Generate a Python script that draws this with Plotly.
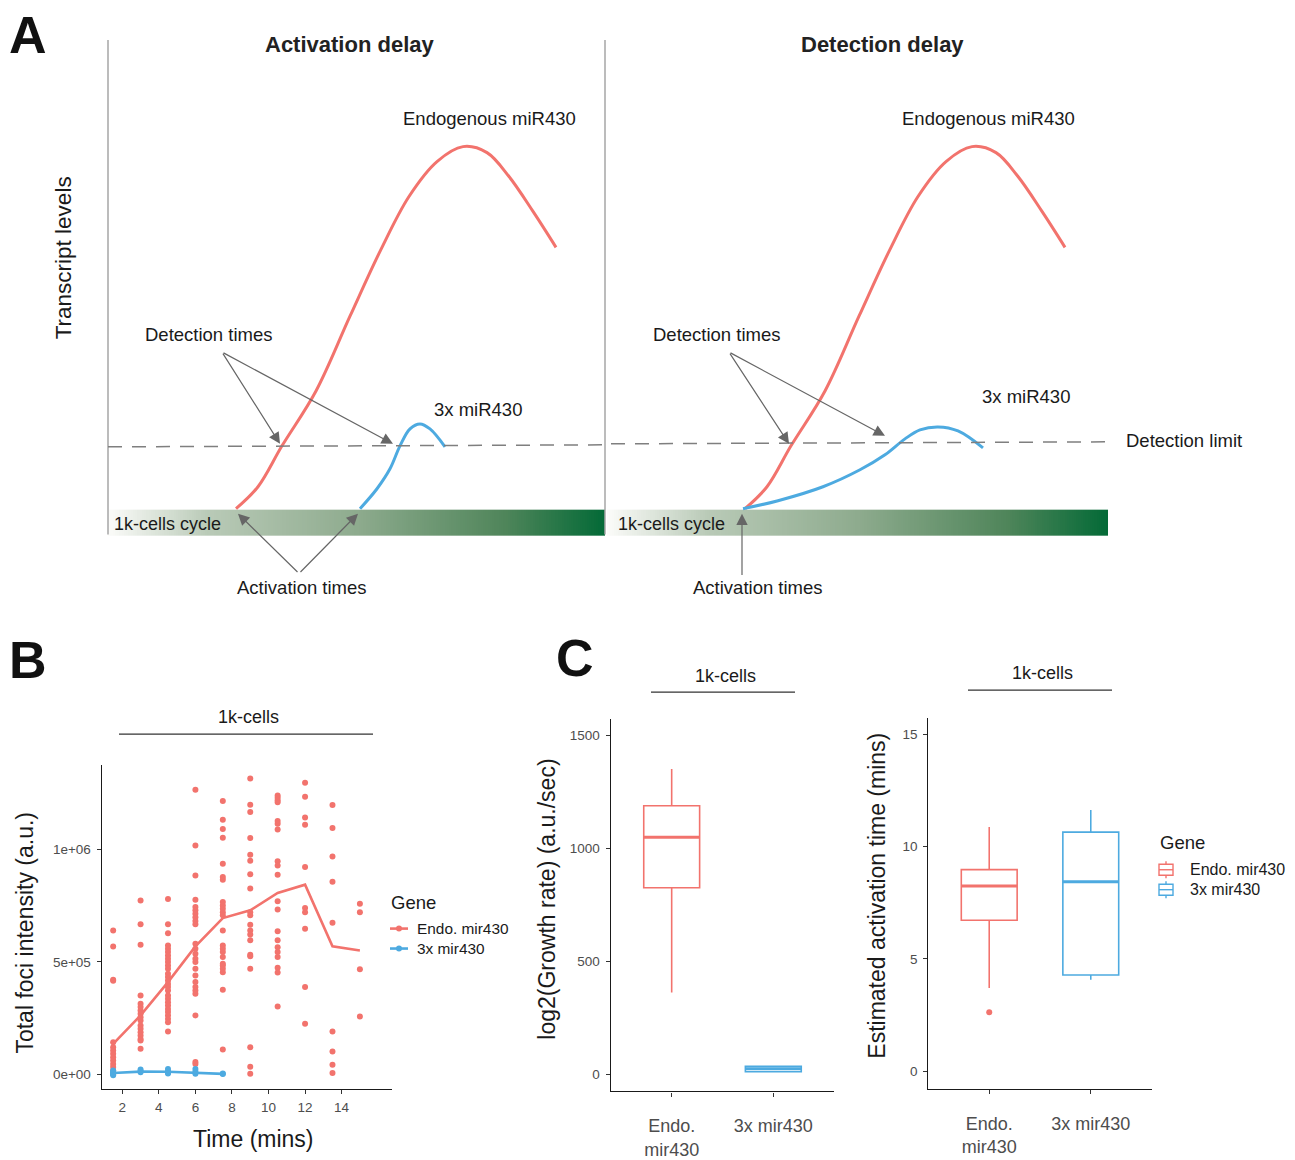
import numpy as np
import plotly.graph_objects as go

FONT = "Liberation Sans, Arial, Helvetica, sans-serif"
RED = "#F2736D"
BLUE = "#4DAAE0"
W, H = 1295, 1160

# ---------------- Panel A (schematic, pixel-like coordinates) ----------------
endo_sx = [236, 258, 282, 316, 350, 381, 409, 437, 463, 487, 509, 533, 556]
endo_sy = [510, 488, 447, 392, 317, 250, 197, 162, 147, 153, 177, 212, 248]
shift_right = 509
x3_left_sx = [360, 377, 390, 400, 410, 420, 430, 445]
x3_left_sy = [510, 490, 470, 447, 430, 425, 430, 448]
x3_right_sx = [743, 778, 823, 860, 885, 905, 920, 938, 958, 983]
x3_right_sy = [510, 502, 488, 471, 456, 440, 431, 428, 432, 449]

# ---------------- Panel B data ----------------
times = [1.5, 3, 4.5, 6, 7.5, 9, 10.5, 12, 13.5, 15]
endo_pts = {
    1.5: [639e3, 568e3, 420e3, 416e3, 143e3, 121e3, 106e3, 92e3, 77e3, 62e3, 47e3, 33e3, 18e3, 3e3],
    3: [772e3, 666e3, 575e3, 351e3, 314e3, 299e3, 284e3, 269e3, 254e3, 240e3, 217e3, 203e3,
        188e3, 173e3, 158e3, 151e3, 114e3],
    4.5: [779e3, 666e3, 627e3, 572e3, 558e3, 543e3, 528e3, 513e3, 499e3, 484e3, 469e3, 447e3,
          432e3, 417e3, 402e3, 388e3, 373e3, 351e3, 336e3, 321e3, 306e3, 291e3, 277e3, 262e3,
          247e3, 232e3, 191e3],
    6: [1263e3, 1016e3, 883e3, 775e3, 743e3, 728e3, 713e3, 698e3, 681e3, 666e3, 580e3, 558e3,
        536e3, 513e3, 499e3, 469e3, 439e3, 410e3, 388e3, 373e3, 358e3, 262e3, 55e3, 47e3],
    7.5: [1213e3, 1130e3, 1089e3, 1050e3, 935e3, 876e3, 864e3, 765e3, 750e3, 735e3, 720e3,
          706e3, 639e3, 572e3, 558e3, 543e3, 521e3, 491e3, 484e3, 469e3, 454e3, 376e3, 111e3],
    9: [1313e3, 1197e3, 1164e3, 1049e3, 975e3, 948e3, 888e3, 825e3, 720e3, 706e3, 664e3, 639e3,
        621e3, 595e3, 531e3, 524e3, 469e3, 121e3, 35e3, 3e3],
    10.5: [1238e3, 1228e3, 1216e3, 1208e3, 1124e3, 1112e3, 1087e3, 946e3, 927e3, 886e3, 769e3,
           732e3, 635e3, 595e3, 565e3, 543e3, 521e3, 473e3, 453e3, 302e3],
    12: [1294e3, 1232e3, 1140e3, 1108e3, 920e3, 738e3, 720e3, 646e3, 388e3, 225e3],
    13.5: [1195e3, 1093e3, 967e3, 855e3, 673e3, 191e3, 102e3, 43e3, 7e3],
    15: [757e3, 720e3, 467e3, 257e3],
}
endo_mean = [136e3, 262e3, 410e3, 568e3, 694e3, 728e3, 805e3, 842e3, 569e3, 550e3]
x3_times = [1.5, 3, 4.5, 6, 7.5]
x3_pts = {
    1.5: [-3e3, 2e3, 5e3, 8e3, 12e3, 18e3],
    3: [10e3, 15e3, 22e3],
    4.5: [5e3, 8e3, 15e3, 25e3],
    6: [3e3, 12e3, 25e3],
    7.5: [2e3, 5e3],
}
x3_mean = [7e3, 13e3, 12e3, 8e3, 3e3]

# ---------------- Panel C data ----------------
genes = ["Endo. mir430", "3x mir430"]
gene_colors = [RED, BLUE]
gene_ticks = ["Endo.<br>mir430", "3x mir430"]
growth_q1 = [826, 12]
growth_med = [1050, 25]
growth_q3 = [1189, 36]
growth_lo = [363, 9]
growth_hi = [1351, 40]
act_q1 = [6.72, 4.28]
act_med = [8.24, 8.43]
act_q3 = [8.97, 10.64]
act_lo = [3.70, 4.07]
act_hi = [10.87, 11.62]
act_outliers = [2.62]

fig = go.Figure()

# ---- Panel A traces on full-figure pixel axis (x4/y4)
N = 220
for x0, x1 in [(108, 605), (607, 1108)]:
    fig.add_trace(go.Heatmap(
        x=np.linspace(x0, x1, N + 1), y=[511, 537],
        z=[list(np.linspace(0, 1, N))], zmin=0, zmax=1,
        colorscale=[[0, "#fbfbf9"], [0.2, "#b9cab7"], [0.5, "#8eab8e"],
                    [0.8, "#4f855a"], [1, "#046a37"]],
        showscale=False, hoverinfo="skip", xaxis="x4", yaxis="y4"))

for sx, sy, col in [(endo_sx, endo_sy, RED),
                    ([v + shift_right for v in endo_sx], endo_sy, RED),
                    (x3_left_sx, x3_left_sy, BLUE),
                    (x3_right_sx, x3_right_sy, BLUE)]:
    fig.add_trace(go.Scatter(x=sx, y=sy, mode="lines",
                             line=dict(color=col, width=3, shape="spline", smoothing=1.0),
                             showlegend=False, hoverinfo="skip", xaxis="x4", yaxis="y4"))

# ---- Panel B traces
ex, ey = [], []
for t in times:
    for v in endo_pts[t]:
        ex.append(t); ey.append(v)
bx, by = [], []
for t in x3_times:
    for v in x3_pts[t]:
        bx.append(t); by.append(v)
fig.add_trace(go.Scatter(x=ex, y=ey, mode="markers", marker=dict(color=RED, size=6),
                         showlegend=False, xaxis="x", yaxis="y"))
fig.add_trace(go.Scatter(x=bx, y=by, mode="markers", marker=dict(color=BLUE, size=6),
                         showlegend=False, xaxis="x", yaxis="y"))
fig.add_trace(go.Scatter(x=times, y=endo_mean, mode="lines", line=dict(color=RED, width=2.6),
                         showlegend=False, xaxis="x", yaxis="y"))
fig.add_trace(go.Scatter(x=x3_times, y=x3_mean, mode="lines", line=dict(color=BLUE, width=2.6),
                         showlegend=False, xaxis="x", yaxis="y"))

# ---- Panel C boxes
BW = 0.55
for i, (g, col) in enumerate(zip(genes, gene_colors)):
    pos = i + 1
    fig.add_trace(go.Box(x=[pos], q1=[growth_q1[i]], median=[growth_med[i]], q3=[growth_q3[i]],
                         lowerfence=[growth_lo[i]], upperfence=[growth_hi[i]], width=BW,
                         fillcolor="white", line=dict(color=col, width=1.6), whiskerwidth=0,
                         boxpoints=False, showlegend=False, hoverinfo="skip",
                         xaxis="x2", yaxis="y2"))
    fig.add_trace(go.Scatter(x=[pos - BW / 2, pos + BW / 2], y=[growth_med[i]] * 2, mode="lines",
                             line=dict(color=col, width=3), showlegend=False, hoverinfo="skip",
                             xaxis="x2", yaxis="y2"))
    fig.add_trace(go.Box(x=[pos], q1=[act_q1[i]], median=[act_med[i]], q3=[act_q3[i]],
                         lowerfence=[act_lo[i]], upperfence=[act_hi[i]], width=BW,
                         fillcolor="white", line=dict(color=col, width=1.6), whiskerwidth=0,
                         boxpoints=False, name=g, showlegend=False,
                         hoverinfo="skip", xaxis="x3", yaxis="y3"))
    fig.add_trace(go.Scatter(x=[pos - BW / 2, pos + BW / 2], y=[act_med[i]] * 2, mode="lines",
                             line=dict(color=col, width=3), showlegend=False, hoverinfo="skip",
                             xaxis="x3", yaxis="y3"))
fig.add_trace(go.Scatter(x=[1] * len(act_outliers), y=act_outliers, mode="markers",
                         marker=dict(color=RED, size=6), showlegend=False, xaxis="x3", yaxis="y3"))

# ---- Legend keys (drawn on the pixel axis)
shapes = []
anns = []

def pline(x0, y0, x1, y1, color="#333", width=1.2, dash=None):
    d = dict(type="line", xref="x4", yref="y4", x0=x0, y0=y0, x1=x1, y1=y1,
             line=dict(color=color, width=width))
    if dash:
        d["line"]["dash"] = dash
    shapes.append(d)

def txt(x, y, text, size, bold=False, color="#1a1a1a", angle=0, xanchor="center"):
    anns.append(dict(x=x, y=y, xref="x4", yref="y4", text=f"<b>{text}</b>" if bold else text,
                     showarrow=False, textangle=angle, xanchor=xanchor, yanchor="middle",
                     font=dict(family=FONT, size=size, color=color)))

for i, (g, col) in enumerate(zip(genes, gene_colors)):
    yb = 931 + 20 * i
    fig.add_trace(go.Scatter(x=[390, 408], y=[yb, yb], mode="lines", line=dict(color=col, width=2.6),
                             showlegend=False, hoverinfo="skip", xaxis="x4", yaxis="y4"))
    fig.add_trace(go.Scatter(x=[399], y=[yb], mode="markers", marker=dict(color=col, size=6),
                             showlegend=False, hoverinfo="skip", xaxis="x4", yaxis="y4"))
    txt(415, yb, g, 15.4, xanchor="left")
    yc = 872 + 20 * i
    shapes.append(dict(type="rect", xref="x4", yref="y4", x0=1159, x1=1173, y0=yc - 5.5, y1=yc + 5.5,
                       line=dict(color=col, width=1.4), fillcolor="white"))
    pline(1159, yc, 1173, yc, color=col, width=1.4)
    pline(1166, yc - 8.5, 1166, yc - 5.5, color=col, width=1.4)
    pline(1166, yc + 5.5, 1166, yc + 8.5, color=col, width=1.4)
    txt(1188, yc, g, 16, xanchor="left")
txt(389, 905, "Gene", 18.5, xanchor="left")
txt(1158, 845, "Gene", 18.5, xanchor="left")

# ---------------- Layout ----------------
def px_dom_x(a, b):
    return [a / W, b / W]

def px_dom_y(top, bottom):
    return [1 - bottom / H, 1 - top / H]

axis_common = dict(showline=True, linecolor="#1a1a1a", linewidth=1.3, mirror=False,
                   ticks="outside", ticklen=4, tickwidth=1, tickcolor="#333",
                   showgrid=False, zeroline=False,
                   tickfont=dict(family=FONT, size=13.5, color="#4d4d4d"))
cat_font = dict(family=FONT, size=18, color="#4d4d4d")

fig.update_layout(
    width=W, height=H, margin=dict(l=0, r=0, t=0, b=0),
    paper_bgcolor="white", plot_bgcolor="rgba(0,0,0,0)",
    font=dict(family=FONT, color="#1a1a1a"), showlegend=False,
    xaxis=dict(domain=px_dom_x(101.7, 391.7), range=[0.873, 16.74], tickvals=[2, 4, 6, 8, 10, 12, 14],
               anchor="y", ticklabelstandoff=2, **axis_common),
    yaxis=dict(domain=px_dom_y(766.7, 1091.7), range=[-63700, 1.374e6], tickvals=[0, 5e5, 1e6],
               ticktext=["0e+00", "5e+05", "1e+06"], anchor="x", ticklabelstandoff=3, **axis_common),
    xaxis2=dict(domain=px_dom_x(610.7, 834.3), range=[0.4, 2.6], tickvals=[1, 2], ticktext=gene_ticks,
                anchor="y2", ticklabelstandoff=14, **{**axis_common, "tickfont": cat_font}),
    yaxis2=dict(domain=px_dom_y(721, 1094.3), range=[-75, 1572], tickvals=[0, 500, 1000, 1500],
                anchor="x2", ticklabelstandoff=3, **axis_common),
    xaxis3=dict(domain=px_dom_x(928.3, 1151.7), range=[0.4, 2.6], tickvals=[1, 2], ticktext=gene_ticks,
                anchor="y3", ticklabelstandoff=14, **{**axis_common, "tickfont": cat_font}),
    yaxis3=dict(domain=px_dom_y(720, 1092), range=[-0.8, 15.71], tickvals=[0, 5, 10, 15],
                anchor="x3", ticklabelstandoff=3, **axis_common),
    xaxis4=dict(domain=[0, 1], range=[0, W], visible=False, anchor="y4", fixedrange=True),
    yaxis4=dict(domain=[0, 1], range=[H, 0], visible=False, anchor="x4", fixedrange=True),
)

# Panel A frame lines
pline(108, 40, 108, 536, color="#a6a6a6", width=1.5)
pline(605, 40, 605, 536, color="#a6a6a6", width=1.5)
pline(108, 448, 605, 446, color="#7f7f7f", width=1.5, dash="14px,10px")
pline(611, 445, 1110, 443, color="#7f7f7f", width=1.5, dash="14px,10px")
# facet strip lines
pline(119, 736, 373, 736)
pline(651, 694, 795, 694)
pline(968, 692, 1112, 692)
fig.update_layout(shapes=shapes)

def arrow(x0, y0, x1, y1):
    anns.append(dict(x=x1, y=y1, ax=x0, ay=y0, xref="x4", yref="y4", axref="x4", ayref="y4",
                     text="", showarrow=True, arrowhead=2, arrowsize=1.9, arrowwidth=1.2,
                     arrowcolor="#666666"))

txt(28, 35, "A", 52, bold=True, color="#111")
txt(28, 662, "B", 52, bold=True, color="#111")
txt(575, 660, "C", 52, bold=True, color="#111")
txt(349, 45, "Activation delay", 22, bold=True, color="#222")
txt(882, 45, "Detection delay", 22, bold=True, color="#222")
txt(63, 259, "Transcript levels", 22.5, angle=-90)
txt(489, 119, "Endogenous miR430", 18.5)
txt(988, 119, "Endogenous miR430", 18.5)
txt(209, 335, "Detection times", 18.5)
txt(717, 335, "Detection times", 18.5)
txt(478, 411, "3x miR430", 18.5)
txt(1026, 398, "3x miR430", 18.5)
txt(1124, 442, "Detection limit", 18.5, xanchor="left")
txt(112, 525, "1k-cells cycle", 18, xanchor="left")
txt(616, 525, "1k-cells cycle", 18, xanchor="left")
txt(302, 589, "Activation times", 18.5)
txt(758, 589, "Activation times", 18.5)

arrow(222, 353, 280, 445)
arrow(222, 353, 393, 445)
arrow(299, 575, 238, 515)
arrow(299, 575, 358, 515)
arrow(729, 353, 789, 445)
arrow(729, 353, 885, 437)
arrow(742, 578, 742, 515)

# Panel B / C titles
txt(248, 719, "1k-cells", 18)
txt(725, 678, "1k-cells", 18)
txt(1042, 675, "1k-cells", 18)
txt(25, 935, "Total foci intensity (a.u.)", 23, angle=-90)
txt(253, 1142, "Time (mins)", 23)
txt(547, 902, "log2(Growth rate) (a.u./sec)", 23, angle=-90)
txt(877, 898, "Estimated activation time (mins)", 23, angle=-90)

fig.update_layout(annotations=anns)

fig.write_html("out.html", config={"displayModeBar": False},
               post_script="document.body.style.margin='0';document.body.style.overflow='hidden';"
                           "document.documentElement.style.overflow='hidden';")
